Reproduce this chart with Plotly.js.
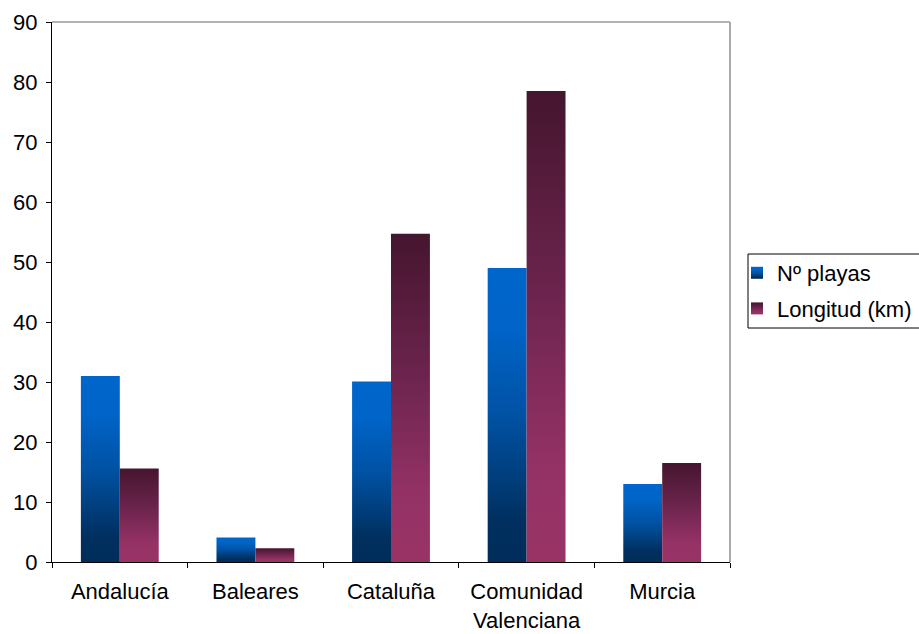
<!DOCTYPE html>
<html>
<head>
<meta charset="utf-8">
<script src="https://cdn.plot.ly/plotly-3.0.1.min.js"></script>
<style>
  html, body { margin: 0; padding: 0; background: #fff; }
  #chart { width: 919px; height: 634px; }
</style>
</head>
<body>
<div id="chart"></div>
<script>
// Beaches by autonomous community
const regiones = ['Andalucía', 'Baleares', 'Cataluña', 'Comunidad<br>Valenciana', 'Murcia'];
const numPlayas = [31, 4.1, 30.1, 49, 13];
const longitudKm = [15.6, 2.3, 54.7, 78.5, 16.5];
const serieNombres = ['Nº playas', 'Longitud (km)'];
const yTicks = [0, 10, 20, 30, 40, 50, 60, 70, 80, 90];

const FONT = 'Liberation Sans, Arial, sans-serif';
const FS = 22;

const traces = [
  {
    type: 'bar', name: serieNombres[0], x: regiones, y: numPlayas,
    marker: { color: '#0066CC', line: { width: 0 } },
    legendgroup: 'a', hoverinfo: 'x+y'
  },
  {
    type: 'bar', name: serieNombres[1], x: regiones, y: longitudKm,
    marker: { color: '#993366', line: { width: 0 } },
    legendgroup: 'b', hoverinfo: 'x+y'
  }
];

const W = 919, H = 634, L = 52, R = 189, T = 22, B = 72;
const pw = W - L - R, ph = H - T - B;
const px = v => (v - L) / pw;          // page x -> paper x
const py = v => (H - B - v) / ph;      // page y -> paper y

const layout = {
  width: W, height: H, autosize: false,
  margin: { l: L, r: R, t: T, b: B, pad: 0, autoexpand: false },
  paper_bgcolor: '#fff', plot_bgcolor: '#fff',
  font: { family: FONT, size: FS, color: '#000' },
  barmode: 'group', bargap: 0.426, bargroupgap: 0,
  showlegend: true,
  legend: {
    x: px(737), xanchor: 'left', y: py(252), yanchor: 'top',
    bgcolor: 'rgba(0,0,0,0)', borderwidth: 0,
    font: { family: FONT, size: FS, color: '#000' },
    traceorder: 'grouped', tracegroupgap: 4
  },
  xaxis: {
    type: 'category', tickson: 'boundaries', automargin: false,
    ticks: 'outside', ticklen: 5, tickcolor: '#000', tickwidth: 1,
    showline: true, linecolor: '#000', linewidth: 1,
    showgrid: false, zeroline: false, fixedrange: true,
    ticklabelstandoff: 10,
    tickfont: { family: FONT, size: FS, color: '#000' }
  },
  yaxis: {
    range: [0, 90], tickvals: yTicks, ticktext: yTicks.map(String),
    automargin: false,
    ticks: 'outside', ticklen: 5, tickcolor: '#000', tickwidth: 1,
    showline: true, linecolor: '#000', linewidth: 1,
    showgrid: false, zeroline: false, fixedrange: true,
    ticklabelstandoff: 4,
    tickfont: { family: FONT, size: FS, color: '#000' }
  },
  shapes: [
    { type: 'line', xref: 'paper', yref: 'paper', x0: 0, x1: 1, y0: 1, y1: 1,
      line: { color: '#999', width: 1.5 } },
    { type: 'line', xref: 'paper', yref: 'paper', x0: 1, x1: 1, y0: 0, y1: 1,
      line: { color: '#aaa', width: 2 } },
    { type: 'rect', xref: 'paper', yref: 'paper',
      x0: px(748), x1: px(930), y0: py(328), y1: py(254),
      line: { color: '#000', width: 1 }, fillcolor: 'rgba(0,0,0,0)' }
  ]
};

// vertical shading for each series
const gradients = {
  gBlue: [[0, '#0066CC'], [0.2, '#0064C8'], [0.5, '#0052A4'], [0.86, '#003060'], [1, '#002D5A']],
  gPlum: [[0, '#45152E'], [0.45, '#6E254F'], [0.8, '#953265'], [1, '#993366']]
};

function addGradients(gd) {
  const svg = gd.querySelector('.main-svg');
  const NS = 'http://www.w3.org/2000/svg';
  if (!document.getElementById('gBlue')) {
    const defs = document.createElementNS(NS, 'defs');
    Object.keys(gradients).forEach(id => {
      const lg = document.createElementNS(NS, 'linearGradient');
      lg.setAttribute('id', id);
      lg.setAttribute('x1', '0'); lg.setAttribute('y1', '0');
      lg.setAttribute('x2', '0'); lg.setAttribute('y2', '1');
      gradients[id].forEach(([o, c]) => {
        const s = document.createElementNS(NS, 'stop');
        s.setAttribute('offset', o);
        s.setAttribute('stop-color', c);
        lg.appendChild(s);
      });
      defs.appendChild(lg);
    });
    svg.insertBefore(defs, svg.firstChild);
  }
  const ids = ['gBlue', 'gPlum'];
  gd.querySelectorAll('.barlayer .trace.bars').forEach((tr, i) => {
    tr.querySelectorAll('path').forEach(p => { p.style.fill = 'url(#' + ids[i] + ')'; });
  });
  gd.querySelectorAll('.legend .traces').forEach((tr, i) => {
    tr.querySelectorAll('.legendpoints path').forEach(p => { p.style.fill = 'url(#' + ids[i] + ')'; });
  });
}

const gd = document.getElementById('chart');
Plotly.newPlot(gd, traces, layout, { displayModeBar: false, staticPlot: true }).then(() => {
  addGradients(gd);
  gd.on('plotly_afterplot', () => addGradients(gd));
});
</script>
</body>
</html>
